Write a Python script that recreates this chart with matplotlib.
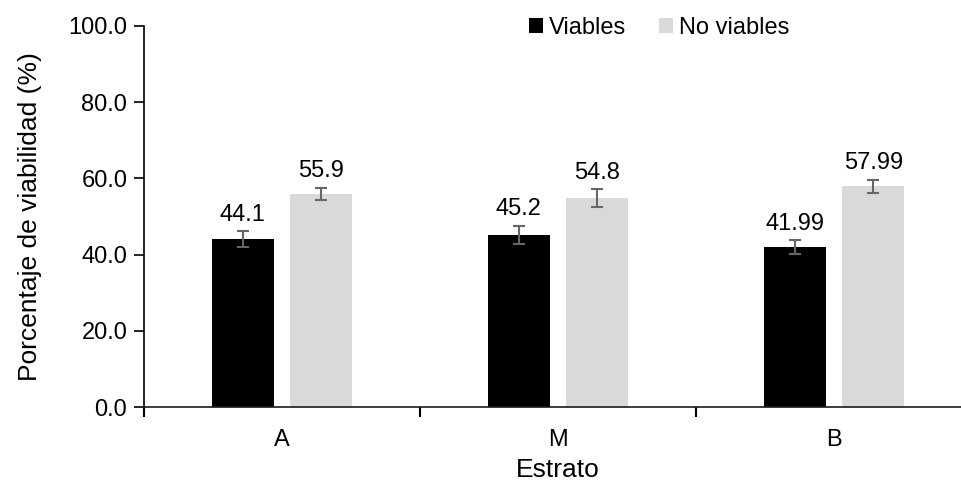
import numpy as np
import matplotlib
matplotlib.use("Agg")
import matplotlib.pyplot as plt
from matplotlib.patches import Patch

# ─── Data ──────────────────────────────────────────────────────────
strata = ["A", "M", "B"]
viables = [44.1, 45.2, 41.99]
no_viables = [55.9, 54.8, 57.99]
viables_err = [2.0, 2.3, 1.8]
no_viables_err = [1.6, 2.3, 1.7]
viables_labels = ["44.1", "45.2", "41.99"]
no_viables_labels = ["55.9", "54.8", "57.99"]

plt.rcParams["font.family"] = ["Liberation Sans", "DejaVu Sans"]
FS = 17        # ticks, value labels, legend
FS_TITLE = 19  # axis titles

fig = plt.figure(figsize=(9.61, 4.83), dpi=100)
ax = fig.add_axes([144 / 961, 76 / 483, 828 / 961, 381 / 483])

x = np.arange(len(strata))
w = 0.225
off = 0.142

err_kw = dict(ecolor="#666666", elinewidth=1.5, capsize=4.3, capthick=1.5)
ax.bar(x - off, viables, w, color="black", yerr=viables_err,
       error_kw=err_kw, label="Viables", zorder=2)
ax.bar(x + off, no_viables, w, color="#d9d9d9", yerr=no_viables_err,
       error_kw=err_kw, label="No viables", zorder=2)

for i in range(len(strata)):
    ax.annotate(viables_labels[i], (x[i] - off, viables[i] + viables_err[i]),
                xytext=(0, 4), textcoords="offset points",
                ha="center", va="bottom", fontsize=FS)
    ax.annotate(no_viables_labels[i], (x[i] + off, no_viables[i] + no_viables_err[i]),
                xytext=(0, 4), textcoords="offset points",
                ha="center", va="bottom", fontsize=FS)

ax.set_xlim(-0.5, 2.5)
ax.set_ylim(0, 100)
ax.set_yticks(np.arange(0, 101, 20))
ax.set_yticklabels([f"{v:.1f}" for v in np.arange(0, 101, 20)], fontsize=FS)

# category labels centred, ticks at the category boundaries
ax.set_xticks(x)
ax.set_xticklabels(strata, fontsize=FS)
ax.tick_params(axis="x", which="major", length=0, pad=16)
ax.set_xticks([-0.5, 0.5, 1.5], minor=True)
ax.tick_params(axis="x", which="minor", length=7, width=1.5, direction="out")
ax.tick_params(axis="y", length=7, width=1.2, direction="out", pad=5)

for s in ["top", "right"]:
    ax.spines[s].set_visible(False)
ax.spines["left"].set_linewidth(1.2)
ax.spines["bottom"].set_linewidth(1.2)
ax.spines["bottom"].set_color("#1a1a1a")

ax.set_ylabel("Porcentaje de viabilidad (%)", fontsize=FS_TITLE, labelpad=19)
ax.set_xlabel("Estrato", fontsize=FS_TITLE, labelpad=5)

handles = [Patch(facecolor="black", label="Viables"),
           Patch(facecolor="#d9d9d9", label="No viables")]
fig.legend(handles=handles, loc="center", bbox_to_anchor=(659 / 961, 1 - 28 / 483),
           ncol=2, frameon=False, fontsize=FS, handlelength=0.6, handleheight=0.6,
           handletextpad=0.25, columnspacing=1.4)

fig.savefig("out.png", dpi=100)
